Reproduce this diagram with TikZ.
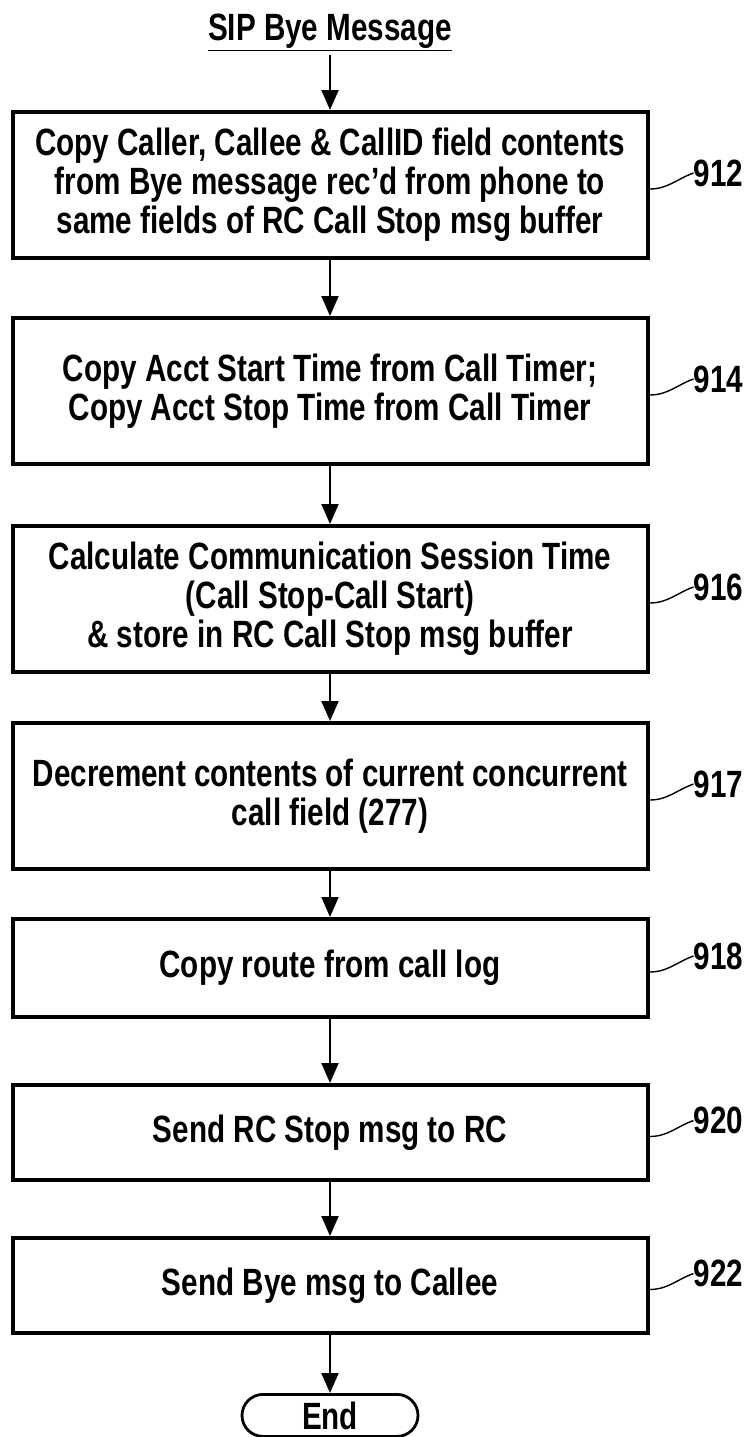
\documentclass[tikz,border=0pt]{standalone}
\usepackage{fontspec}
\setmainfont{Liberation Sans}[FakeStretch=0.78]
\usetikzlibrary{arrows.meta,positioning}

\begin{document}
\begin{tikzpicture}
\tikzset{
  basic/.style   = {font=\bfseries\fontsize{19}{19.5}\selectfont},
  process/.style = {basic, draw, rectangle, line width=2pt, align=center,
                    minimum width=317.5pt, inner sep=2pt},
  tall/.style    = {process, minimum height=73pt},
  short/.style   = {process, minimum height=47.5pt},
  terminal/.style = {basic, draw, line width=1.4pt, rounded corners=10.5pt,
                    minimum width=88pt, minimum height=21pt, inner sep=0pt},
  refnum/.style  = {basic, anchor=west, inner sep=0pt},
  line/.style    = {->, line width=1pt},
  leader/.style  = {line width=0.7pt},
  >={Triangle[length=10pt,width=8.5pt]}
}
\useasboundingbox (0,0) rectangle (377pt,-718.5pt);

\node[basic, anchor=base, inner sep=1.5pt] (sip) at (165pt,-20pt) {\underline{SIP Bye Message}};

% The boxes, top to bottom
\node[tall] (b1) at (165pt,-92.5pt)
  {Copy Caller, Callee \& CallID field contents\\
   from Bye message rec'd from phone to\\
   same fields of RC Call Stop msg buffer};
\node[tall, below=28pt of b1] (b2)
  {Copy Acct Start Time from Call Timer;\\
   Copy Acct Stop Time from Call Timer};
\node[tall, below=29pt of b2] (b3)
  {Calculate Communication Session Time\\
   (Call Stop-Call Start)\\
   \& store in RC Call Stop msg buffer};
\node[tall, below=23.5pt of b3] (b4)
  {Decrement contents of current concurrent\\
   call field (277)};
\node[short, minimum height=49pt, below=23pt of b4] (b5) {Copy route from call log};
\node[short, below=32pt of b5] (b6) {Send RC Stop msg to RC};
\node[short, below=27pt of b6] (b7) {Send Bye msg to Callee};
\node[terminal, below=29pt of b7] (end) {End};

\draw[line] (sip.south) -- (b1.north);
\draw[line] (b1) -- (b2);
\draw[line] (b2) -- (b3);
\draw[line] (b3) -- (b4);
\draw[line] (b4) -- (b5);
\draw[line] (b5) -- (b6);
\draw[line] (b6) -- (b7);
\draw[line] (b7) -- (end);

% Reference numbers
\foreach \b/\n in {b1/912, b2/914, b3/916, b4/917, b5/918, b6/920, b7/922} {
  \node[refnum] (n\n) at ([xshift=22pt,yshift=6pt]\b.east) {\n};
  \draw[leader] ([yshift=-2pt]\b.east) to[out=0,in=200] (n\n.west);
}
\end{tikzpicture}
\end{document}
